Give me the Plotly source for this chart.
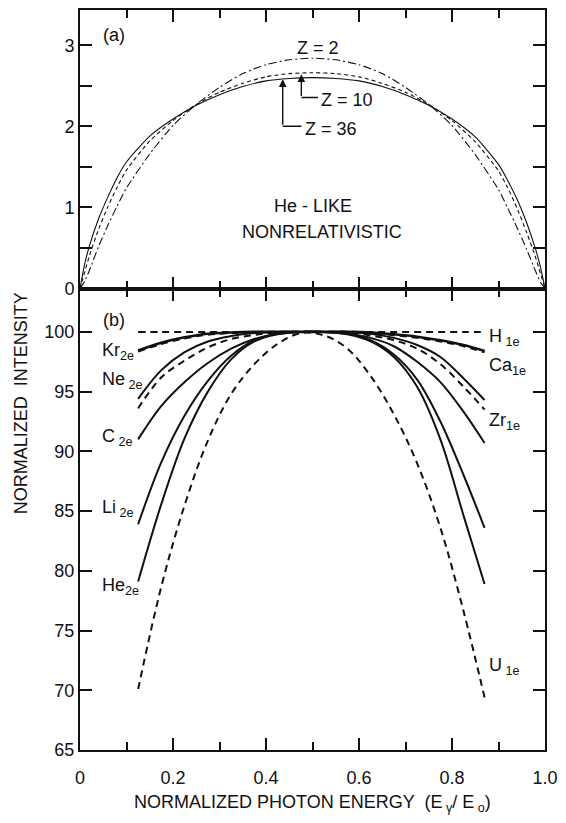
import plotly.graph_objects as go

# ---------------- panel (a): He-like, nonrelativistic ----------------
x_top = [0, 0.01, 0.02, 0.04, 0.06, 0.08, 0.10, 0.15, 0.20, 0.25, 0.30, 0.35, 0.40, 0.45, 0.50,
         0.55, 0.60, 0.65, 0.70, 0.75, 0.80, 0.85, 0.90, 0.92, 0.94, 0.96, 0.98, 0.99, 1.0]
z36 = [0, 0.30, 0.52, 0.86, 1.13, 1.37, 1.56, 1.88, 2.09, 2.26, 2.39, 2.49, 2.56, 2.59, 2.60,
       2.59, 2.56, 2.49, 2.39, 2.26, 2.09, 1.87, 1.53, 1.33, 1.10, 0.82, 0.48, 0.27, 0]
z10 = [0, 0.20, 0.40, 0.73, 1.01, 1.25, 1.46, 1.82, 2.07, 2.27, 2.42, 2.53, 2.61, 2.65, 2.66,
       2.65, 2.61, 2.53, 2.42, 2.27, 2.07, 1.81, 1.45, 1.24, 0.99, 0.70, 0.38, 0.19, 0]
z2 = [0, 0.09, 0.22, 0.52, 0.78, 1.02, 1.24, 1.66, 2.01, 2.27, 2.48, 2.65, 2.76, 2.82, 2.84,
      2.82, 2.76, 2.65, 2.48, 2.27, 2.01, 1.65, 1.22, 0.99, 0.75, 0.49, 0.21, 0.08, 0]

# ---------------- panel (b): normalized intensity ----------------
x_bot = [0.125, 0.175, 0.225, 0.275, 0.325, 0.375, 0.425, 0.475,
         0.525, 0.575, 0.625, 0.675, 0.725, 0.775, 0.825, 0.87]
h1e = [100] * len(x_bot)
kr2e = [98.45, 99.1, 99.55, 99.85, 99.95, 100, 100, 100, 100, 100, 99.95, 99.8, 99.6, 99.3, 98.9, 98.4]
ca1e = [98.37, 99.0, 99.47, 99.78, 99.92, 99.98, 100, 100, 100, 100, 99.92, 99.74, 99.52, 99.22, 98.82, 98.3]
ne2e = [94.4, 96.8, 98.3, 99.2, 99.65, 99.9, 100, 100, 100, 100, 99.85, 99.5, 98.9, 97.9, 96.1, 94.3]
zr1e = [93.6, 96.2, 97.6, 98.7, 99.4, 99.75, 99.95, 100, 100, 99.95, 99.7, 99.3, 98.6, 97.3, 95.4, 93.5]
c2e = [91.0, 93.8, 95.8, 97.4, 98.6, 99.4, 99.85, 100, 100, 99.85, 99.5, 98.8, 97.5, 95.8, 93.3, 90.7]
li2e = [83.9, 89.1, 93.0, 95.9, 98.0, 99.3, 99.85, 100, 100, 99.85, 99.3, 98.1, 96.0, 92.5, 88.0, 83.6]
he2e = [79.1, 85.6, 91.1, 95.0, 97.7, 99.2, 99.8, 100, 100, 99.8, 99.2, 97.9, 95.4, 91.0, 84.6, 78.9]
u1e = [70.1, 78.7, 85.5, 90.9, 94.8, 97.3, 99.0, 99.9, 99.7, 98.6, 96.3, 93.1, 89.0, 83.6, 76.6, 69.4]

x_ticks = [0, 0.2, 0.4, 0.6, 0.8, 1.0]
x_ticktext = ["0", "0.2", "0.4", "0.6", "0.8", "1.0"]
top_ticks = [0, 1, 2, 3]
bot_ticks = [65, 70, 75, 80, 85, 90, 95, 100]

FONT = "Liberation Sans, Arial, sans-serif"
INK = "#111111"
DASH = "7px,5px"
FS = 18

fig = go.Figure()


def top_line(y, dash, width=1.1):
    fig.add_trace(go.Scatter(x=x_top, y=y, mode="lines", xaxis="x", yaxis="y",
                             line=dict(color=INK, width=width, dash=dash, shape="spline",
                                       smoothing=0.6),
                             showlegend=False, hoverinfo="skip"))


top_line(z2, "8px,3px,2px,3px")
top_line(z10, "4px,3px")
top_line(z36, "solid")


def bot_line(y, dash, width=2.0):
    fig.add_trace(go.Scatter(x=x_bot, y=y, mode="lines", xaxis="x2", yaxis="y2",
                             line=dict(color=INK, width=width, dash=dash, shape="spline",
                                       smoothing=1.0),
                             showlegend=False, hoverinfo="skip"))


bot_line(h1e, DASH)
bot_line(ca1e, DASH, 2.4)
bot_line(kr2e, "solid", 2.6)
bot_line(ne2e, "solid")
bot_line(zr1e, DASH)
bot_line(c2e, "solid")
bot_line(li2e, "solid")
bot_line(he2e, "solid")
bot_line(u1e, DASH)

# ---- annotations ----
ann = []


def txt(x, y, text, xref, yref, anchor="left", size=FS):
    ann.append(dict(x=x, y=y, xref=xref, yref=yref, text=text, showarrow=False,
                    xanchor=anchor, yanchor="middle", font=dict(family=FONT, size=size, color=INK)))


txt(0.045, 3.13, "(a)", "x", "y")
txt(0.511, 2.97, "Z = 2", "x", "y", "center")
txt(0.515, 2.32, "Z = 10", "x", "y")
txt(0.48, 1.97, "Z = 36", "x", "y")
txt(0.5, 1.02, "He - LIKE", "x", "y", "center")
txt(0.52, 0.70, "NONRELATIVISTIC", "x", "y", "center")

# pointer arrows for Z = 10 and Z = 36
for xa, ylow, ytip, xend in [(0.476, 2.355, 2.64, 0.512), (0.436, 2.0, 2.58, 0.476)]:
    ann.append(dict(x=xa, y=ytip, ax=xa, ay=ylow, xref="x", yref="y", axref="x", ayref="y",
                    text="", showarrow=True, arrowhead=2, arrowsize=1.1, arrowwidth=1.4,
                    arrowcolor=INK))
    fig.add_shape(type="line", x0=xa, y0=ylow, x1=xend, y1=ylow, xref="x", yref="y",
                  line=dict(color=INK, width=1.4))

txt(0.045, 101.0, "(b)", "x2", "y2")
txt(0.043, 98.4, "Kr<sub>2e</sub>", "x2", "y2")
txt(0.043, 95.9, "Ne<sub> 2e</sub>", "x2", "y2")
txt(0.043, 91.2, "C<sub> 2e</sub>", "x2", "y2")
txt(0.043, 85.2, "Li<sub> 2e</sub>", "x2", "y2")
txt(0.043, 78.7, "He<sub>2e</sub>", "x2", "y2")
txt(0.876, 99.5, "H<sub> 1e</sub>", "x2", "y2")
txt(0.876, 97.1, "Ca<sub>1e</sub>", "x2", "y2")
txt(0.876, 92.5, "Zr<sub>1e</sub>", "x2", "y2")
txt(0.876, 72.0, "U<sub> 1e</sub>", "x2", "y2")

# axis titles
ann.append(dict(x=0.5, y=-0.072, xref="paper", yref="paper", showarrow=False,
                text="NORMALIZED PHOTON ENERGY  (E<sub> γ</sub>/ E<sub> o</sub>)",
                xanchor="center", yanchor="middle", font=dict(family=FONT, size=FS, color=INK)))
ann.append(dict(x=-0.126, y=0.469, xref="paper", yref="paper", showarrow=False,
                text="NORMALIZED  INTENSITY", textangle=-90,
                xanchor="center", yanchor="middle", font=dict(family=FONT, size=FS, color=INK)))

axis_common = dict(showline=True, linecolor=INK, linewidth=2, mirror="ticks", ticks="inside",
                   tickcolor=INK, tickwidth=1.5, showgrid=False, zeroline=False,
                   tickfont=dict(family=FONT, size=FS, color=INK))

# the page body adds an 8 px offset, so the figure is 8 px smaller than the window
SPLIT = 0.6236
fig.update_layout(
    width=558, height=815,
    paper_bgcolor="white", plot_bgcolor="white",
    margin=dict(l=72, r=21, t=0, b=73),
    showlegend=False,
    annotations=ann,
    xaxis=dict(axis_common, range=[0, 1], anchor="y", tickvals=x_ticks, ticklen=12,
               showticklabels=False, minor=dict(dtick=0.1, ticklen=8, ticks="inside", tickcolor=INK)),
    yaxis=dict(axis_common, range=[0, 3.434], domain=[SPLIT, 1], anchor="x", tickvals=top_ticks,
               ticklen=12, ticklabelstandoff=0,
               minor=dict(dtick=0.5, ticklen=12, ticks="inside", tickcolor=INK)),
    xaxis2=dict(axis_common, range=[0, 1], anchor="y2", tickvals=x_ticks, ticktext=x_ticktext,
                ticklen=12, ticklabelstandoff=10,
                minor=dict(dtick=0.1, ticklen=8, ticks="inside", tickcolor=INK)),
    yaxis2=dict(axis_common, range=[65, 103.63], domain=[0, SPLIT], anchor="x2", tickvals=bot_ticks,
                ticklen=12, ticklabelstandoff=0),
)

fig.write_html("out.html")
